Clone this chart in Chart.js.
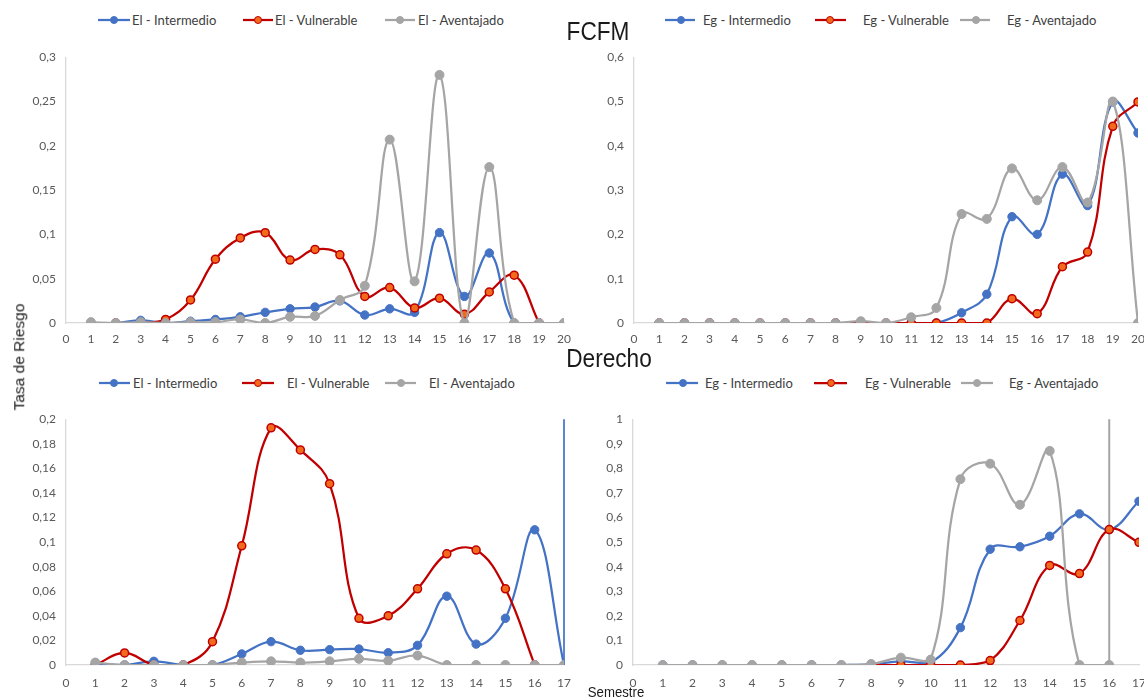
<!DOCTYPE html>
<html>
<head>
<meta charset="utf-8">
<script src="https://cdn.jsdelivr.net/npm/chart.js@4.4.1/dist/chart.umd.min.js"></script>
<style>
html,body{margin:0;padding:0;width:1144px;height:700px;overflow:hidden;background:#fff;position:relative;}
canvas{position:absolute;}
.t{position:absolute;font-family:'Liberation Sans',Arial,sans-serif;color:#1a1a1a;white-space:nowrap;line-height:1;}
.legtxt{position:absolute;font-family:Lato,sans-serif;font-size:13px;color:#404040;white-space:nowrap;line-height:18px;}
svg{position:absolute;}
</style>
</head>
<body>
<script>
// ---------- DATA ----------
const semestresFCFM = [1,2,3,4,5,6,7,8,9,10,11,12,13,14,15,16,17,18,19,20];
const semestresDerecho = [1,2,3,4,5,6,7,8,9,10,11,12,13,14,15,16,17];
const xTicksFCFM = [0,1,2,3,4,5,6,7,8,9,10,11,12,13,14,15,16,17,18,19,20];
const xTicksDerecho = [0,1,2,3,4,5,6,7,8,9,10,11,12,13,14,15,16,17];

const seriesEl = ['El - Intermedio', 'El - Vulnerable', 'El - Aventajado'];
const seriesEg = ['Eg - Intermedio', 'Eg - Vulnerable', 'Eg - Aventajado'];

// FCFM - El
const elIntermedioFCFM = [0,0,0.003,0,0.002,0.004,0.007,0.012,0.016,0.018,0.025,0.009,0.016,0.012,0.102,0.030,0.079,0,0,0];
const elVulnerableFCFM = [0,0,0,0.004,0.026,0.072,0.096,0.102,0.071,0.083,0.077,0.030,0.040,0.017,0.028,0.010,0.035,0.054,0,null];
const elAventajadoFCFM = [0.001,0,0.001,0,0.001,0.001,0.004,0,0.007,0.008,0.026,0.042,0.207,0.047,0.280,0,0.176,0,0,0];

// FCFM - Eg
const egIntermedioFCFM = [0,0,0,0,0,0,0,0,0,0,0,0,0.023,0.065,0.240,0.200,0.336,0.265,0.499,0.429];
const egVulnerableFCFM = [0,0,0,0,0,0,0,0,0,0,0,0,0,0,0.055,0.021,0.127,0.160,0.444,0.499];
const egAventajadoFCFM = [0,0,0,0,0,0,0,0,0.004,0,0.013,0.034,0.246,0.235,0.349,0.277,0.352,0.272,0.500,0];

// Derecho - El
const elIntermedioDerecho = [0.001,0,0.003,0,0,0.009,0.019,0.012,0.0125,0.013,0.010,0.016,0.056,0.017,0.038,0.110,0];
const elVulnerableDerecho = [0,0.0098,0,0,0.019,0.097,0.193,0.175,0.1475,0.038,0.040,0.062,0.0905,0.0935,0.062,0,null];
const elAventajadoDerecho = [0.002,0,0,0,0,0.002,0.003,0.002,0.003,0.005,0.0035,0.0077,0,0,0,0,0];
const vLineDerechoElX = 17;
const vLineDerechoElY = [0, 0.2];

// Derecho - Eg
const egIntermedioDerecho = [0,0,0,0,0,0,0,0.003,0.015,0.010,0.152,0.471,0.481,0.524,0.615,0.551,0.666];
const egVulnerableDerecho = [null,null,null,null,null,null,null,0,0,0,0,0.018,0.181,0.405,0.372,0.551,0.499];
const egAventajadoDerecho = [0,0,0,0,0,0,0,0.004,0.030,0.022,0.756,0.819,0.652,0.871,0,0,null];
const vLineDerechoEgX = 16;
const vLineDerechoEgY = [0, 1];

// tick labels
const yTicksElFCFM = ['0','0,05','0,1','0,15','0,2','0,25','0,3'];
const yTicksEgFCFM = ['0','0,1','0,2','0,3','0,4','0,5','0,6'];
const yTicksElDerecho = ['0','0,02','0,04','0,06','0,08','0,1','0,12','0,14','0,16','0,18','0,2'];
const yTicksEgDerecho = ['0','0,1','0,2','0,3','0,4','0,5','0,6','0,7','0,8','0,9','1'];

const titleFCFM = 'FCFM';
const titleDerecho = 'Derecho';
const yTitle = 'Tasa de Riesgo';
const xTitle = 'Semestre';

// ---------- STYLE ----------
const C = {
  blue: '#4472C4', blueFill: '#4472C4',
  red: '#C00000', redFill: '#F26B1D',
  gray: '#A5A5A5', grayFill: '#A5A5A5',
  axis: '#D9D9D9', tick: '#595959'
};
Chart.defaults.font.family = 'Lato, "Open Sans", sans-serif';
Chart.defaults.font.size = 12;
Chart.defaults.color = C.tick;

function toVal(l){ return parseFloat(l.replace(',', '.')); }

function series(xs, ys, color, fill, r, bw){
  return {
    data: xs.map((x,i)=>({x:x, y:ys[i]})),
    borderColor: color, backgroundColor: fill,
    pointBackgroundColor: fill, pointBorderColor: color,
    pointRadius: r, pointBorderWidth: bw, borderWidth: 2.25,
    tension: 0.4, spanGaps: false, fill: false
  };
}

function makeChart(cfg){
  const c = document.createElement('canvas');
  c.width = cfg.w; c.height = cfg.h;
  c.style.left = cfg.left + 'px'; c.style.top = cfg.top + 'px';
  c.style.width = cfg.w + 'px'; c.style.height = cfg.h + 'px';
  document.body.appendChild(c);
  const ds = [
    series(cfg.xs, cfg.gray, C.gray, C.grayFill, 4.5, 1),
    series(cfg.xs, cfg.red, C.red, C.redFill, 4, 1.5),
    series(cfg.xs, cfg.blue, C.blue, C.blueFill, 4.2, 1)
  ];
  if (cfg.vline) {
    ds.push({
      data: cfg.vline.y.map(v=>({x: cfg.vline.x, y: v})),
      borderColor: cfg.vline.color, backgroundColor: cfg.vline.color, borderWidth: cfg.vline.w,
      pointRadius: 0, tension: 0, fill: false, clip: false
    });
  }
  new Chart(c, {
    type: 'line',
    data: { datasets: ds },
    options: {
      responsive: false, animation: false, devicePixelRatio: 1,
      layout: { padding: { left: 0, right: cfg.padR, top: 10, bottom: cfg.padB } },
      plugins: { legend: { display: false }, tooltip: { enabled: false } },
      events: [],
      scales: {
        x: {
          type: 'linear', min: 0, max: cfg.xTicks[cfg.xTicks.length-1],
          afterFit: s => { s.height = 30; },
          afterBuildTicks: s => { s.ticks = cfg.xTicks.map(v=>({value:v})); },
          grid: { display: false, drawTicks: false },
          border: { color: C.axis, width: 1.3 },
          ticks: { autoSkip: false, maxRotation: 0, padding: cfg.xPad, color: C.tick,
                   callback: (v,i) => String(cfg.xTicks[i]) }
        },
        y: {
          min: 0, max: toVal(cfg.yTicks[cfg.yTicks.length-1]),
          afterFit: s => { s.width = cfg.yW; },
          afterBuildTicks: s => { s.ticks = cfg.yTicks.map(l=>({value: toVal(l)})); },
          grid: { display: false, drawTicks: false },
          border: { color: C.axis, width: 1.3 },
          ticks: { padding: 10, color: C.tick, callback: (v,i) => cfg.yTicks[i] }
        }
      }
    }
  });
}

makeChart({ left:0, top:40, w:590, h:320, yW:66, padR:26, padB:7, xPad:9,
  xs: semestresFCFM, xTicks: xTicksFCFM, yTicks: yTicksElFCFM,
  blue: elIntermedioFCFM, red: elVulnerableFCFM, gray: elAventajadoFCFM });
makeChart({ left:570, top:40, w:600, h:320, yW:64, padR:32, padB:7, xPad:9,
  xs: semestresFCFM, xTicks: xTicksFCFM, yTicks: yTicksEgFCFM,
  blue: egIntermedioFCFM, red: egVulnerableFCFM, gray: egAventajadoFCFM });
makeChart({ left:0, top:402, w:590, h:300, yW:66, padR:26, padB:7, xPad:11,
  xs: semestresDerecho, xTicks: xTicksDerecho, yTicks: yTicksElDerecho,
  blue: elIntermedioDerecho, red: elVulnerableDerecho, gray: elAventajadoDerecho,
  vline: { x: vLineDerechoElX, y: vLineDerechoElY, color: '#5B86D0', w: 2 } });
makeChart({ left:570, top:402, w:600, h:300, yW:63, padR:31, padB:7, xPad:11,
  xs: semestresDerecho, xTicks: xTicksDerecho, yTicks: yTicksEgDerecho,
  blue: egIntermedioDerecho, red: egVulnerableDerecho, gray: egAventajadoDerecho,
  vline: { x: vLineDerechoEgX, y: vLineDerechoEgY, color: '#A5A5A5', w: 2 } });

// ---------- LEGENDS ----------
function legend(names, y, pos){
  const cols = [[C.blue, C.blueFill],[C.red, C.redFill],[C.gray, C.grayFill]];
  names.forEach((n,i)=>{
    const p = pos[i];
    const w = p[1]-p[0];
    const svg = document.createElementNS('http://www.w3.org/2000/svg','svg');
    svg.setAttribute('width', w); svg.setAttribute('height', 12);
    svg.style.left = p[0]+'px'; svg.style.top = (y-6)+'px';
    svg.innerHTML = `<line x1="0" y1="6" x2="${w}" y2="6" stroke="${cols[i][0]}" stroke-width="2.25"/>`+
      `<circle cx="${p[2]-p[0]}" cy="6" r="3.5" fill="${cols[i][1]}" stroke="${cols[i][0]}" stroke-width="1"/>`;
    document.body.appendChild(svg);
    const t = document.createElement('div');
    t.className = 'legtxt'; t.textContent = n;
    t.style.left = p[3]+'px'; t.style.top = (y-9)+'px';
    document.body.appendChild(t);
  });
}
legend(seriesEl, 20, [[98,130,114,132],[243,273,258,275],[385,415,400,418]]);
legend(seriesEg, 20, [[665,695,681,703],[815,846,830,863],[960,990,976,1007]]);
legend(seriesEl, 383, [[99,130,114,133],[242,274,258,287],[385,416,401,429]]);
legend(seriesEg, 383, [[666,698,683,705],[814,847,831,865],[961,993,977,1009]]);

// ---------- TITLES ----------
function text(str, x, y, size, sx, rot){
  const d = document.createElement('div');
  d.className = 't'; d.textContent = str;
  d.style.fontSize = size + 'px';
  d.style.left = x + 'px'; d.style.top = y + 'px';
  d.style.transform = `translate(-50%,-50%) ${rot ? 'rotate(-90deg)' : ''} scaleX(${sx})`;
  document.body.appendChild(d);
}
text(titleFCFM, 598, 31, 26, 0.87);
text(titleDerecho, 609, 358, 26, 0.87);
text(yTitle, 19, 357, 15.5, 1, true);
text(xTitle, 616, 691, 15, 0.88);
</script>
</body>
</html>
